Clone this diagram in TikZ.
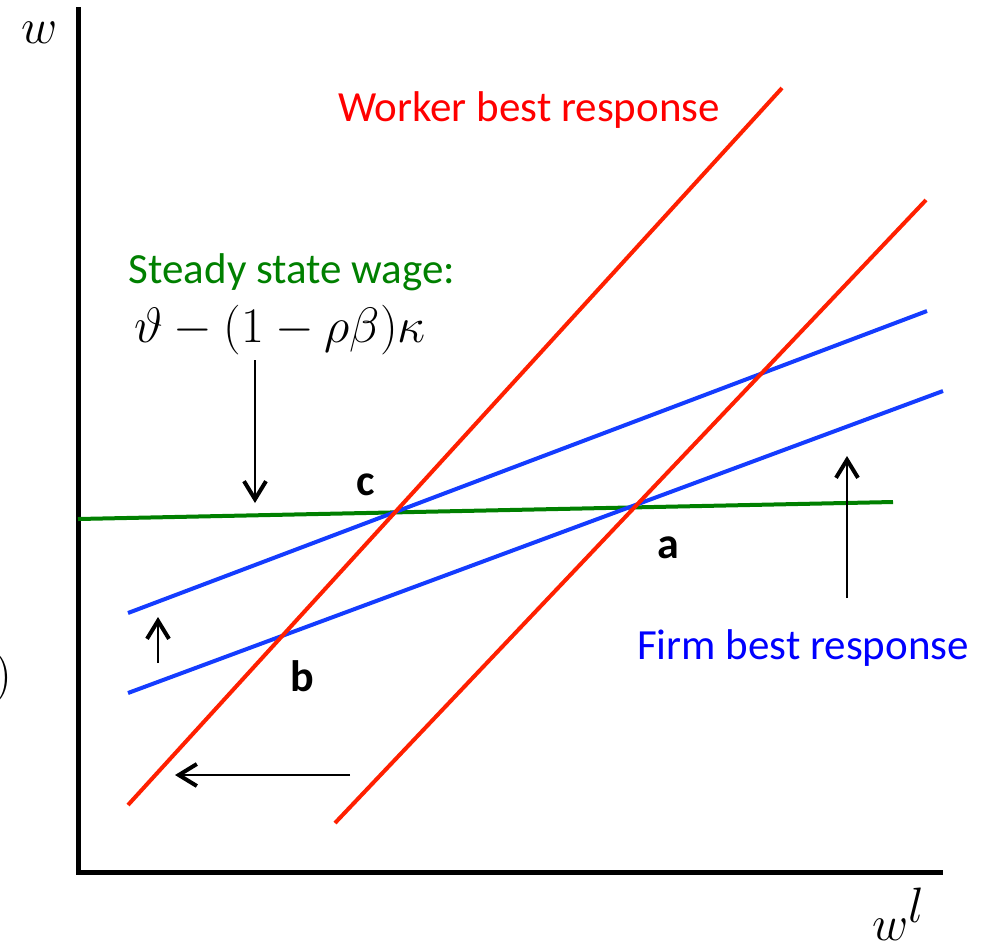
\documentclass[tikz,border=0pt]{standalone}
\usepackage{amsmath}
\usepackage{fontspec}
\setmainfont{Carlito}
\usepackage{tikz}
\usetikzlibrary{arrows.meta}
\definecolor{wred}{RGB}{255,32,0}
\definecolor{fblue}{RGB}{20,60,255}
\definecolor{sgreen}{RGB}{0,128,0}
\tikzstyle{axis} = [line width=2.5pt, draw=black]
\tikzstyle{worker} = [line width=2pt, draw=wred]
\tikzstyle{firm} = [line width=2pt, draw=fblue]
\tikzstyle{steady} = [line width=2pt, draw=sgreen]
\tikzstyle{move} = [line width=1pt,
-{Straight Barb[length=9pt, width=11pt, line width=2pt]}]
\tikzstyle{txt} = [inner sep=0pt,
font=\fontsize{21.5}{24}\selectfont]
\tikzstyle{pt} = [inner sep=0pt,
font=\fontsize{22}{24}\selectfont\bfseries]
\tikzstyle{axlbl} = [inner sep=0pt,
font=\fontsize{34}{36}\selectfont]

\begin{document}
\begin{tikzpicture}[x=0.5pt, y=-0.5pt]
\useasboundingbox (0,0) rectangle (990,949);
% axes
\coordinate (o) at (78,872);
\coordinate (ytop) at (78,7);
\coordinate (xend) at (943,872);
\draw [axis] (ytop) -- (o) -- (xend);
\node (wlab) [axlbl] at (40,33) {$w$};
\node (wllab) [axlbl] at (899,914) {$w^l$};
\node (cut) [txt, font=\fontsize{24}{26}\selectfont] at (3,678) {$)$};
% best responses
\coordinate (r1a) at (128,805);
\coordinate (r1b) at (782,88);
\coordinate (r2a) at (335,823);
\coordinate (r2b) at (926,200);
\coordinate (b1a) at (128,613);
\coordinate (b1b) at (927,311);
\coordinate (b2a) at (128,693);
\coordinate (b2b) at (943,391);
\coordinate (ga) at (78,519);
\coordinate (gb) at (893,502);
\draw [steady] (ga) -- (gb);
\draw [firm] (b1a) -- (b1b);
\draw [firm] (b2a) -- (b2b);
\draw [worker] (r1a) -- (r1b);
\draw [worker] (r2a) -- (r2b);
% labels
\node (wbr) [txt, text=red] at (529,110) {Worker best response};
\node (ssw) [txt, text=sgreen] at (292,272) {Steady state wage:};
\node (ssf) [txt, font=\fontsize{25}{28}\selectfont] at (280,330)
{$\vartheta-(1-\rho\beta)\kappa$};
\node (fbr) [txt, text=blue] at (803,648) {Firm best response};
\node (pc) [pt] at (366,485) {c};
\node (pa) [pt] at (668,548) {a};
\node (pb) [pt] at (302,676) {b};
% shifts
\coordinate (d1) at (255,360);
\coordinate (d2) at (255,503);
\coordinate (u1) at (847,598);
\coordinate (u2) at (847,456);
\coordinate (s1) at (158,663);
\coordinate (s2) at (158,617);
\coordinate (l1) at (350,775);
\coordinate (l2) at (175,775);
\draw [move] (d1) -- (d2);
\draw [move] (u1) -- (u2);
\draw [move] (s1) -- (s2);
\draw [move] (l1) -- (l2);
\end{tikzpicture}
\end{document}
